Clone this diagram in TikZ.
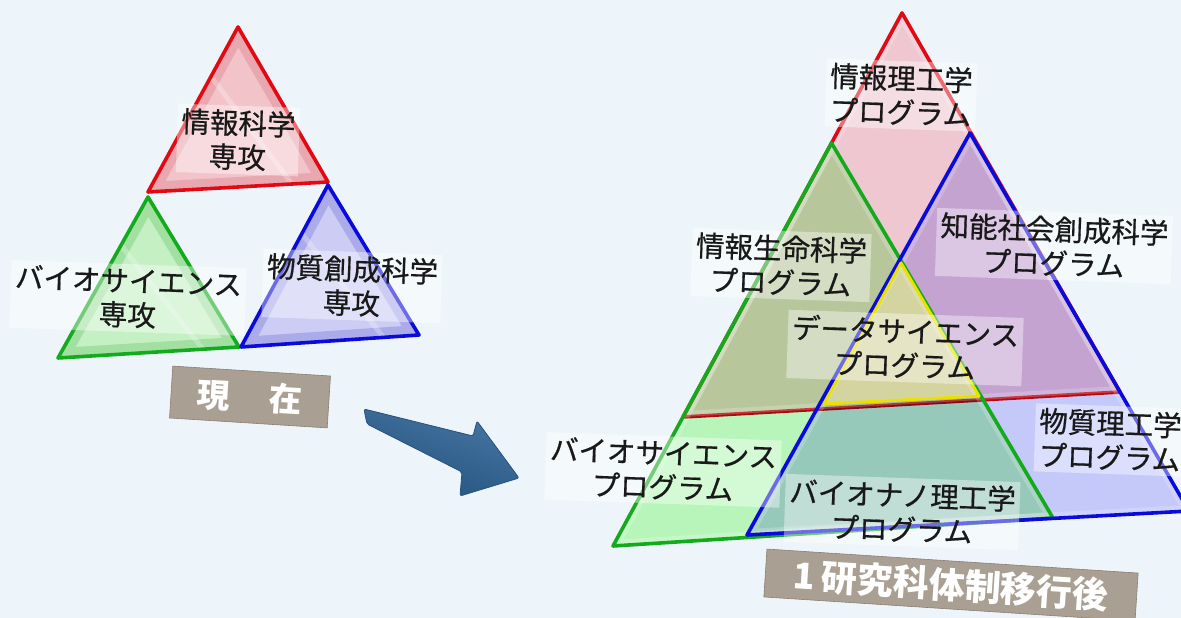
\documentclass[tikz,border=0pt]{standalone}
\usepackage{fontspec}
\setmainfont{Noto Sans CJK JP}
\newfontfamily\lblfont[FakeBold=0.6]{Noto Sans CJK JP}
\usetikzlibrary{calc}
\definecolor{bg}{RGB}{238,245,250}
\definecolor{redE}{RGB}{225,10,20}
\definecolor{greenE}{RGB}{20,170,30}
\definecolor{blueE}{RGB}{10,10,220}
\definecolor{yellowE}{RGB}{235,225,0}
\definecolor{redF}{RGB}{255,208,214}
\definecolor{greenF}{RGB}{198,255,190}
\definecolor{blueF}{RGB}{210,210,255}
\definecolor{yellowF}{RGB}{212,212,160}
\definecolor{redL}{RGB}{242,196,202}
\definecolor{redB}{RGB}{228,150,160}
\definecolor{greenL}{RGB}{196,240,196}
\definecolor{greenB}{RGB}{140,214,140}
\definecolor{blueL}{RGB}{204,204,244}
\definecolor{blueB}{RGB}{150,150,228}
\definecolor{tagc}{RGB}{169,159,146}
\definecolor{arrowT}{RGB}{72,118,164}
\definecolor{arrowB}{RGB}{36,82,126}
\definecolor{txt}{RGB}{25,25,25}
\tikzset{
  lbl/.style={font=\lblfont\fontsize{28.5}{34}\selectfont, text=txt, align=center, fill=white, fill opacity=0.4, text opacity=1, inner sep=4pt, rotate=-2},
  tag/.style={fill=tagc, draw=tagc!80!black, line width=0.6pt, text=white, font=\bfseries},
  edge/.style={line width=3.6pt, line join=round},
  mult/.style={blend mode=multiply}
}
\begin{document}
\begin{tikzpicture}[x=1pt,y=-1pt]
\useasboundingbox (0,0) rectangle (1181,618);
\fill[bg] (0,0) rectangle (1181,618);
\clip (0,0) rectangle (1181,618);

% ---------- left pyramid ----------
\coordinate (r1a) at (238,27);  \coordinate (r1l) at (148,192); \coordinate (r1r) at (328,182);
\coordinate (g1a) at (148,197); \coordinate (g1l) at (58,358);  \coordinate (g1r) at (239,347);
\coordinate (b1a) at (328,185); \coordinate (b1l) at (241,347); \coordinate (b1r) at (419,335);

\foreach \a/\l/\r/\cl/\cb/\ce in {r1a/r1l/r1r/redL/redB/redE, g1a/g1l/g1r/greenL/greenB/greenE, b1a/b1l/b1r/blueL/blueB/blueE}{
  \fill[\cl] (\a) -- (\l) -- (\r) -- cycle;
  \begin{scope}
    \clip (\a) -- (\l) -- (\r) -- cycle;
    \draw[\cb, line width=20pt, opacity=0.6, line join=round] (\a) -- (\l) -- (\r) -- cycle;
    \draw[white, line width=5pt, opacity=0.25] ($(\a)!0.3!(\l)$) -- ($(\r)!0.2!(\l)$);
  \end{scope}
  \draw[\ce, edge] (\a) -- (\l) -- (\r) -- cycle;
}

\node[lbl] (l1) at (238,140) {情報科学\\専攻};
\node[lbl] (l2) at (128,298) {バイオサイエンス\\専攻};
\node[lbl] (l3) at (352,286) {物質創成科学\\専攻};

\node[tag, minimum width=158pt, minimum height=52pt, rotate=-3.6, font=\bfseries\fontsize{33}{33}\selectfont] (now) at (250,397) {現\hspace{1.2em}在};

% ---------- arrow ----------
\shade[top color=arrowT, bottom color=arrowB, shading angle=-20, rounded corners=2pt, draw=arrowB, line width=0.8pt]
  (364,409) -- (473,436) -- (477,421) -- (519,478) -- (460,496) -- (462,472) -- (367,424) -- cycle;

% ---------- right pyramid ----------
\coordinate (ra) at (902,13);   \coordinate (rl) at (683,417);  \coordinate (rr) at (1120,392);
\coordinate (ga) at (831.5,143);\coordinate (gl) at (613,546);  \coordinate (gr) at (1053,518);
\coordinate (ba) at (970,133);  \coordinate (bl) at (747,535);  \coordinate (br) at (1189,511);
\coordinate (ya) at (901,263);  \coordinate (yl) at (824,404);  \coordinate (yr) at (979,396);

\fill[redF, mult] (ra) -- (rl) -- (rr) -- cycle;
\draw[redE, edge] (rl) -- (rr);
\fill[greenF, mult] (ga) -- (gl) -- (gr) -- cycle;
\fill[blueF, mult] (ba) -- (bl) -- (br) -- cycle;
\fill[yellowF] (ya) -- (yl) -- (yr) -- cycle;

% subtle bevels
\foreach \a/\l/\r in {ra/rl/rr, ga/gl/gr, ba/bl/br}{
  \begin{scope}
    \clip (\a) -- (\l) -- (\r) -- cycle;
    \draw[white, line width=12pt, opacity=0.2, line join=round] (\a) -- (\l) -- (\r) -- cycle;
  \end{scope}
}

\draw[redE, edge] (rl) -- (ra) -- (rr);
\draw[greenE, edge] (ga) -- (gl) -- (gr) -- cycle;
\draw[blueE, edge] (ba) -- (bl) -- (br) -- cycle;
\draw[yellowE, line width=3pt, line join=round] (ya) -- (yl) -- (yr) -- cycle;

\node[lbl] (p1) at (901,95)  {情報理工学\\プログラム};
\node[lbl] (p2) at (781,265) {情報生命科学\\プログラム};
\node[lbl] (p3) at (1054,246) {知能社会創成科学\\プログラム};
\node[lbl] (p4) at (905,348) {データサイエンス\\プログラム};
\node[lbl] (p5) at (663,470) {バイオサイエンス\\プログラム};
\node[lbl] (p6) at (902,512) {バイオナノ理工学\\プログラム};
\node[lbl] (p7) at (1110,440) {物質理工学\\プログラム};

\node[tag, minimum width=372pt, minimum height=48pt, rotate=-3.7, font=\bfseries\fontsize{36}{36}\selectfont] (after) at (951,585) {1\,研究科体制移行後};
\end{tikzpicture}
\end{document}
